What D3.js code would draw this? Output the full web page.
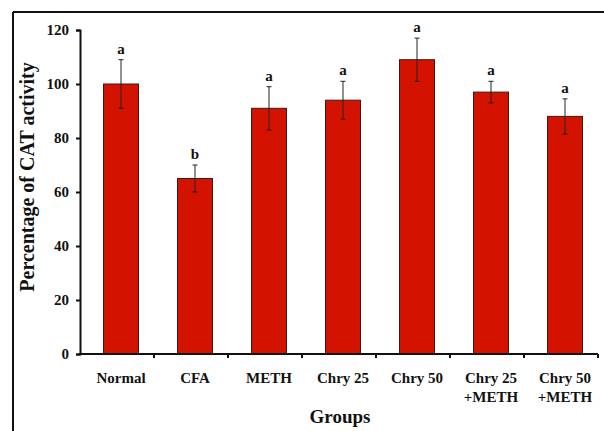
<!DOCTYPE html>
<html>
<head>
<meta charset="utf-8">
<script src="https://cdn.jsdelivr.net/npm/d3@7"></script>
<style>
  html, body { margin: 0; padding: 0; background: #fff; }
  svg { display: block; }
  text { font-family: "Liberation Serif", "Times New Roman", serif; font-weight: bold; fill: #111; }
</style>
</head>
<body>
<svg id="chart" width="604" height="431"></svg>
<script>
// CAT activity (% of normal) per treatment group, mean ± SEM
const groups = ["Normal", "CFA", "METH", "Chry 25", "Chry 50", "Chry 25\n+METH", "Chry 50\n+METH"];
const means = [100, 65, 91, 94, 109, 97, 88];
const errors = [9, 5, 8, 7, 8, 4, 6.5];
const letters = ["a", "b", "a", "a", "a", "a", "a"];
const yTicks = [0, 20, 40, 60, 80, 100, 120];

const svg = d3.select("#chart");
const plotLeft = 80, plotRight = 598, plotTop = 30, plotBottom = 354;

// outer frame (top and left edges visible)
svg.append("line").attr("x1", 13).attr("y1", 12).attr("x2", 604).attr("y2", 12)
  .attr("stroke", "#111").attr("stroke-width", 2);
svg.append("line").attr("x1", 13).attr("y1", 12).attr("x2", 13).attr("y2", 431)
  .attr("stroke", "#111").attr("stroke-width", 2);

const x = d3.scaleBand().domain(groups).range([plotLeft, plotRight]).paddingInner(0).paddingOuter(0);
const y = d3.scaleLinear().domain([0, 120]).range([plotBottom, plotTop]);
const barW = 35, barShift = 4;
const cx = g => x(g) + x.bandwidth() / 2 + barShift;

// bars
svg.append("g").selectAll("rect").data(groups).join("rect")
  .attr("x", g => cx(g) - barW / 2)
  .attr("y", (g, i) => y(means[i]))
  .attr("width", barW)
  .attr("height", (g, i) => y(0) - y(means[i]))
  .attr("fill", "#d41200")
  .attr("stroke", "#3a1a14")
  .attr("stroke-width", 1);

// error bars
const eb = svg.append("g").attr("stroke", "#222").attr("stroke-width", 1);
groups.forEach((g, i) => {
  const c = cx(g), hi = y(means[i] + errors[i]), lo = y(means[i] - errors[i]);
  eb.append("line").attr("x1", c).attr("x2", c).attr("y1", hi).attr("y2", lo);
  eb.append("line").attr("x1", c - 2.5).attr("x2", c + 2.5).attr("y1", hi).attr("y2", hi);
  eb.append("line").attr("x1", c - 2.5).attr("x2", c + 2.5).attr("y1", lo).attr("y2", lo);
});

// significance letters
svg.append("g").selectAll("text").data(groups).join("text")
  .attr("x", g => cx(g))
  .attr("y", (g, i) => y(means[i] + errors[i]) - 6)
  .attr("text-anchor", "middle")
  .attr("font-size", 15)
  .text((g, i) => letters[i]);

// y axis
const yAxis = svg.append("g").attr("transform", `translate(${plotLeft},0)`)
  .call(d3.axisLeft(y).tickValues(yTicks).tickSize(4).tickPadding(7));
yAxis.select(".domain").attr("stroke", "#111").attr("stroke-width", 2);
yAxis.selectAll(".tick line").attr("stroke", "#111").attr("stroke-width", 2);
yAxis.selectAll("text").attr("font-size", 15).attr("font-family", "Liberation Serif").attr("font-weight", "bold").attr("fill", "#222");

// x axis: ticks at category boundaries
const xAxis = svg.append("g").attr("transform", `translate(0,${plotBottom})`);
xAxis.append("line").attr("x1", plotLeft - 1).attr("x2", plotRight).attr("y1", 0).attr("y2", 0)
  .attr("stroke", "#111").attr("stroke-width", 2);
xAxis.selectAll(".tick").data(groups).join("line")
  .attr("x1", g => x(g) + x.bandwidth()).attr("x2", g => x(g) + x.bandwidth())
  .attr("y1", 0).attr("y2", 4)
  .attr("stroke", "#111").attr("stroke-width", 2);

// category labels (two lines where needed)
const lbl = svg.append("g").selectAll("text").data(groups).join("text")
  .attr("text-anchor", "middle")
  .attr("font-size", 15);
lbl.each(function(g) {
  const t = d3.select(this);
  g.split("\n").forEach((part, k) => {
    t.append("tspan").attr("x", cx(g)).attr("y", 383 + k * 19).text(part);
  });
});

// axis titles
svg.append("text").attr("x", 340).attr("y", 423).attr("text-anchor", "middle")
  .attr("font-size", 19).text("Groups");
svg.append("text").attr("transform", "translate(34,177) rotate(-90)")
  .attr("text-anchor", "middle").attr("font-size", 20).text("Percentage of CAT activity");
</script>
</body>
</html>
